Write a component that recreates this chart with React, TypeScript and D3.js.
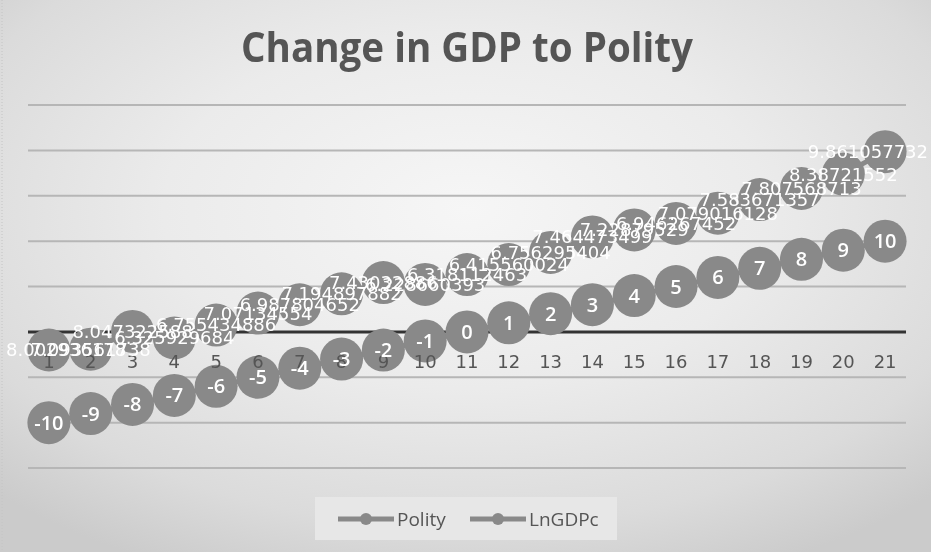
import React, { useMemo } from "react"
import * as d3 from "d3"

// ── Data ──────────────────────────────────────────────────────────────────────

const categories = ["1", "2", "3", "4", "5", "6", "7", "8", "9", "10", "11", "12", "13", "14", "15", "16", "17", "18", "19", "20", "21"]
const polity = [-10, -9, -8, -7, -6, -5, -4, -3, -2, -1, 0, 1, 2, 3, 4, 5, 6, 7, 8, 9, 10]
const lnGdpc = [
  8.002936178, 7.093561738, 8.047322588, 6.325929684, 6.755434886, 7.07134554, 6.987804652,
  7.194897882, 7.43032886, 6.228660393, 6.318112463, 6.415560024, 6.756295404, 7.464473499,
  7.22879529, 6.946267452, 7.079016128, 7.583671357, 7.807568713, 8.38721552, 9.861057732,
]
const seriesNames = ["Polity", "LnGDPc"]
const yTicks = [-15, -10, -5, 0, 5, 10, 15, 20, 25]
const title = "Change in GDP to Polity"

// ── Layout ────────────────────────────────────────────────────────────────────

const W = 931
const H = 552
const plot = { left: 28, right: 906, top: 105, bottom: 468 }
const MARK = "#898989"
const TEXT = "#555555"
const NUM_FONT = "DejaVu Sans"
const NUM_SIZE = 18

let measureCtx: CanvasRenderingContext2D | null = null
function textWidth(s: string) {
  if (!measureCtx) measureCtx = document.createElement("canvas").getContext("2d")
  if (!measureCtx) return s.length * 11
  measureCtx.font = `${NUM_SIZE}px "${NUM_FONT}"`
  return measureCtx.measureText(s).width
}

export default function App() {
  const x = useMemo(
    () => d3.scaleBand<string>().domain(categories).range([plot.left, plot.right]),
    [],
  )
  const y = useMemo(
    () => d3.scaleLinear().domain([-15, 25]).range([plot.bottom, plot.top]),
    [],
  )
  const cx = (c: string) => (x(c) ?? 0) + x.bandwidth() / 2

  // stacked line: the second series sits on top of the first
  const polityPts = categories.map((c, i) => ({ c, v: polity[i], px: cx(c), py: y(polity[i]) }))
  const gdpPts = categories.map((c, i) => {
    const stacked = polity[i] + lnGdpc[i]
    return { c, v: lnGdpc[i], px: cx(c), py: y(stacked) }
  })

  const line = d3
    .line<{ px: number; py: number }>()
    .x(d => d.px)
    .y(d => d.py)

  const r = 21.5

  return (
    <svg
      width={W}
      height={H}
      style={{ position: "fixed", left: 0, top: 0, display: "block" }}
      fontFamily="'Open Sans', sans-serif"
    >
      <defs>
        <radialGradient id="bg" cx="50%" cy="38%" r="72%">
          <stop offset="0%" stopColor="#f6f6f6" />
          <stop offset="45%" stopColor="#ebebeb" />
          <stop offset="80%" stopColor="#dbdbdb" />
          <stop offset="100%" stopColor="#cbcbcb" />
        </radialGradient>
      </defs>
      <rect width={W} height={H} fill="url(#bg)" />
      <line x1={2} x2={2} y1={0} y2={H} stroke="#c4c4c4" strokeDasharray="1 2" />

      {/* Title */}
      <text
        x={467}
        y={62}
        textAnchor="middle"
        fontSize={42}
        fontWeight={700}
        fill={TEXT}
        textLength={452}
        lengthAdjust="spacingAndGlyphs"
      >
        {title}
      </text>

      {/* Gridlines */}
      {yTicks.map(t => (
        <line
          key={t}
          x1={plot.left}
          x2={plot.right}
          y1={y(t)}
          y2={y(t)}
          stroke={t === 0 ? "#333333" : "#b6b6b6"}
          strokeWidth={t === 0 ? 3 : 2}
        />
      ))}

      {/* Series lines */}
      <path d={line(polityPts) ?? ""} fill="none" stroke={MARK} strokeWidth={5} />
      <path d={line(gdpPts) ?? ""} fill="none" stroke={MARK} strokeWidth={5} />

      {/* Markers */}
      {polityPts.map(d => (
        <circle key={`p-${d.c}`} cx={d.px} cy={d.py} r={r} fill={MARK} />
      ))}
      {gdpPts.map(d => (
        <circle key={`g-${d.c}`} cx={d.px} cy={d.py} r={r} fill={MARK} />
      ))}

      {/* Category labels */}
      {categories.map(c => (
        <text
          key={`xl-${c}`}
          x={cx(c)}
          y={368}
          textAnchor="middle"
          fontFamily={NUM_FONT}
          fontSize={NUM_SIZE}
          fill={TEXT}
        >
          {c}
        </text>
      ))}

      {/* Polity value labels */}
      {polityPts.map(d => (
        <text
          key={`pl-${d.c}`}
          x={d.px}
          y={d.py}
          dy="0.35em"
          textAnchor="middle"
          fontSize={20}
          fontWeight={600}
          fill="#fff"
        >
          {d.v}
        </text>
      ))}

      {/* LnGDPc value labels, kept inside the chart */}
      {gdpPts.map(d => {
        const s = String(d.v)
        const w = textWidth(s)
        const left = Math.min(Math.max(d.px - w / 2, 6), W - 3 - w)
        return (
          <text
            key={`gl-${d.c}`}
            x={left}
            y={d.py}
            dy="0.36em"
            fontFamily={NUM_FONT}
            fontSize={NUM_SIZE}
            fill="#fff"
          >
            {s}
          </text>
        )
      })}

      {/* Legend */}
      <rect x={315} y={497} width={302} height={43} fill="#e7e7e7" />
      {seriesNames.map((name, i) => {
        const lx = i === 0 ? 338 : 470
        return (
          <g key={name}>
            <line x1={lx} x2={lx + 56} y1={519} y2={519} stroke={MARK} strokeWidth={5} />
            <circle cx={lx + 28} cy={519} r={6} fill={MARK} />
            <text x={lx + 59} y={526} fontSize={19} fill={TEXT}>
              {name}
            </text>
          </g>
        )
      })}
    </svg>
  )
}
